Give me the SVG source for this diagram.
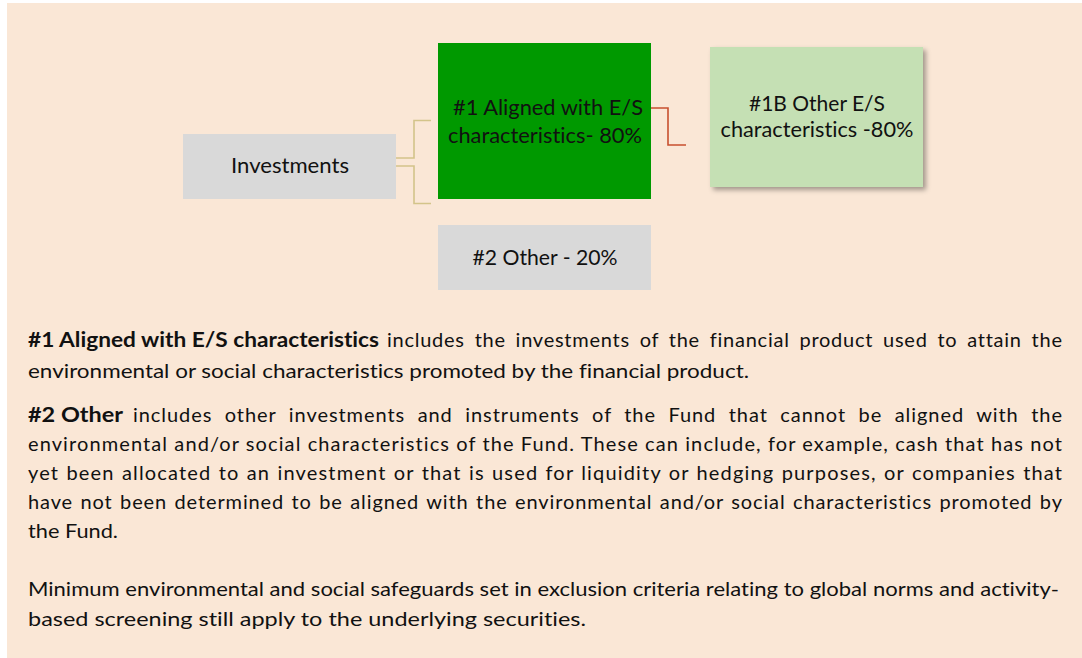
<svg xmlns="http://www.w3.org/2000/svg" width="1082" height="658" viewBox="0 0 1082 658">
  <defs>
    <style>
      .t { font-family: Lato, "Open Sans", sans-serif; fill: #111111; font-variant-ligatures: none; }
      .body { font-size: 20px; }
      .b { font-weight: bold; }
      .node { font-size: 21px; text-anchor: middle; }
      .conn-tan { fill: none; stroke: #D3C48A; stroke-width: 1.6; }
      .conn-red { fill: none; stroke: #C8502F; stroke-width: 1.6; }
    </style>
    <filter id="shadow" x="-10%" y="-10%" width="130%" height="140%">
      <feDropShadow dx="3" dy="3" stdDeviation="2.5" flood-color="#000000" flood-opacity="0.35"/>
    </filter>
  </defs>

  <rect x="7" y="3" width="1075" height="655" fill="#FAE7D6"/>

  <g id="connectors">
    <path class="conn-tan" d="M396,158 H414 V120.5 H431"/>
    <path class="conn-tan" d="M396,166 H414 V203.5 H431"/>
    <path class="conn-red" d="M651,108 H668 V145 H686"/>
  </g>

  <g id="investments">
    <rect x="183" y="134" width="213" height="65" fill="#D9D9D9"/>
    <text class="t node" x="290" y="173" textLength="118" lengthAdjust="spacingAndGlyphs">Investments</text>
  </g>

  <g id="aligned">
    <rect x="438" y="43" width="213" height="156" fill="#009900"/>
    <text class="t node" x="548" y="115" textLength="190" lengthAdjust="spacingAndGlyphs">#1 Aligned with E/S</text>
    <text class="t node" x="545" y="143" textLength="194" lengthAdjust="spacingAndGlyphs">characteristics- 80%</text>
  </g>

  <g id="other-es">
    <rect x="710" y="47" width="213" height="140" fill="#C5E0B4" filter="url(#shadow)"/>
    <text class="t node" x="817" y="111" textLength="136" lengthAdjust="spacingAndGlyphs">#1B Other E/S</text>
    <text class="t node" x="817" y="137" textLength="193" lengthAdjust="spacingAndGlyphs">characteristics -80%</text>
  </g>

  <g id="other">
    <rect x="438" y="225" width="213" height="65" fill="#D9D9D9"/>
    <text class="t node" x="545" y="265" textLength="145" lengthAdjust="spacingAndGlyphs">#2 Other - 20%</text>
  </g>

  <g id="description">
    <text class="t body b" x="28" y="347" textLength="351" lengthAdjust="spacingAndGlyphs">#1 Aligned with E/S characteristics</text>
    <text class="t body" x="387" y="347" word-spacing="4" textLength="675" lengthAdjust="spacing">includes the investments of the financial product used to attain the</text>
    <text class="t body" x="28" y="378" textLength="721" lengthAdjust="spacingAndGlyphs">environmental or social characteristics promoted by the financial product.</text>

    <text class="t body b" x="28" y="422" textLength="95" lengthAdjust="spacingAndGlyphs">#2 Other</text>
    <text class="t body" x="133" y="422" word-spacing="6.5" textLength="929" lengthAdjust="spacing">includes other investments and instruments of the Fund that cannot be aligned with the</text>
    <text class="t body" x="28" y="451" textLength="1034" lengthAdjust="spacing">environmental and/or social characteristics of the Fund. These can include, for example, cash that has not</text>
    <text class="t body" x="28" y="480" word-spacing="1" textLength="1034" lengthAdjust="spacing">yet been allocated to an investment or that is used for liquidity or hedging purposes, or companies that</text>
    <text class="t body" x="28" y="509" word-spacing="1.5" textLength="1034" lengthAdjust="spacing">have not been determined to be aligned with the environmental and/or social characteristics promoted by</text>
    <text class="t body" x="28" y="538" textLength="90" lengthAdjust="spacingAndGlyphs">the Fund.</text>

    <text class="t body" x="28" y="596" textLength="1031" lengthAdjust="spacingAndGlyphs">Minimum environmental and social safeguards set in exclusion criteria relating to global norms and activity-</text>
    <text class="t body" x="28" y="626" textLength="558" lengthAdjust="spacingAndGlyphs">based screening still apply to the underlying securities.</text>
  </g>
</svg>
